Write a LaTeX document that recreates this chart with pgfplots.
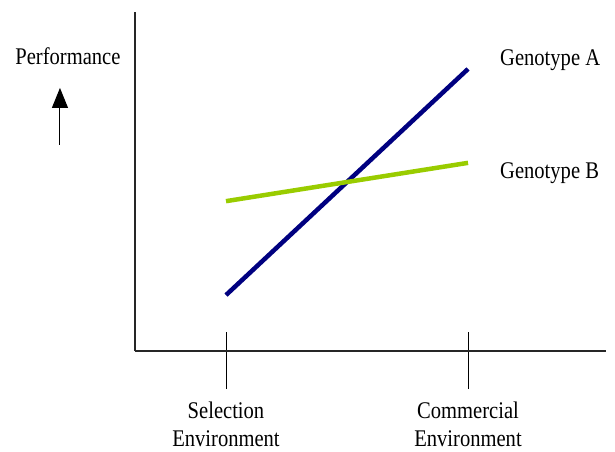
\documentclass[border=0pt]{standalone}
\usepackage{fontspec}
\setmainfont[FakeStretch=0.86]{Liberation Serif}
\usepackage{pgfplots}
\pgfplotsset{compat=1.18}
\usetikzlibrary{arrows.meta}
\definecolor{navyA}{RGB}{0,0,128}
\definecolor{limeB}{RGB}{153,204,0}
\begin{document}
\begin{tikzpicture}
  \useasboundingbox (-135bp,-101bp) rectangle (480bp,351bp);
  \begin{axis}[
      scale only axis,
      width=471bp, height=339bp,
      xmin=-0.376, xmax=1.570,
      ymin=0, ymax=10,
      axis lines=left,
      axis line style={-, line width=1.3pt, black!85},
      xtick={0,1},
      xticklabels={Selection\\Environment, Commercial\\Environment},
      ytick=\empty,
      tick align=center,
      major tick length=57bp,
      xtick style={line width=1pt, black, yshift=-9.5bp},
      xticklabel style={align=center, font=\fontsize{24}{28}\selectfont, yshift=-19bp},
      clip=false,
      font=\fontsize{24}{28}\selectfont,
  ]
  % Genotype A
  \addplot[color=navyA, line width=4.5bp] coordinates {(0,1.65) (1,8.32)};
  % Genotype B
  \addplot[color=limeB, line width=4.5bp] coordinates {(0,4.42) (1,5.55)};

  \node[anchor=base west, inner sep=0] at (axis cs:1.132,8.41) {Genotype A};
  \node[anchor=base west, inner sep=0] at (axis cs:1.132,5.10) {Genotype B};
  \node[anchor=base, inner sep=0] at (axis cs:-0.653,8.44) {Performance};
  \draw[-{Triangle[length=20bp,width=16bp]}, line width=1pt]
    (axis cs:-0.686,6.08) -- (axis cs:-0.686,7.76);
  \end{axis}
\end{tikzpicture}
\end{document}
